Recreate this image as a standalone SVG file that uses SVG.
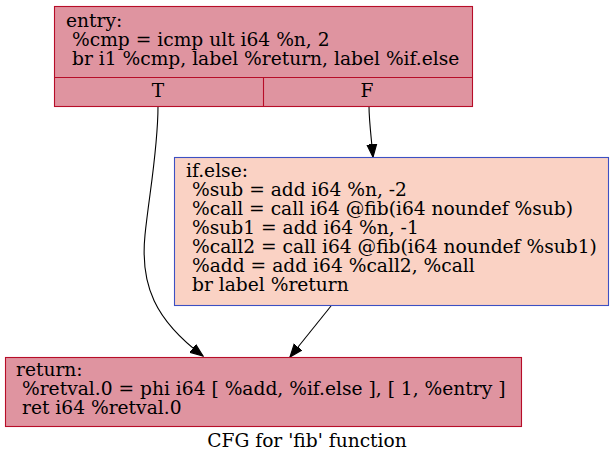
<svg xmlns="http://www.w3.org/2000/svg" width="614" height="464" viewBox="0 0 614 464">
<style>
text{font-family:"DejaVu Serif",serif;font-size:18.65px;fill:#000}
.red{fill:#df94a0;stroke:#b70d28;stroke-width:1.1}
.blue{fill:#fad2c4;stroke:#3d50c3;stroke-width:1.1}
.sep{stroke:#b70d28;stroke-width:1.1;fill:none}
.edge{fill:none;stroke:#000;stroke-width:1.1}
.mid{text-anchor:middle}
</style>
<defs>
<marker id="arr" markerUnits="userSpaceOnUse" markerWidth="14" markerHeight="12" viewBox="0 -5 12 10" refX="11" refY="0" orient="auto">
<path d="M0,-4.2 L11,0 L0,4.2 z" fill="#000" stroke="#000" stroke-width="1"/>
</marker>
</defs>
<rect width="614" height="464" fill="#fff"/>
<g id="edges">
<path class="edge" d="M158,106 C158,150 149,195 145,235 C140,285 155,320 203,356" marker-end="url(#arr)"/>
<path class="edge" d="M369,106 C369,120 371,135 373,157" marker-end="url(#arr)"/>
<path class="edge" d="M331,306 L290,357" marker-end="url(#arr)"/>
</g>
<g id="entry">
<rect class="red" x="54.5" y="6.5" width="418" height="100"/>
<path class="sep" d="M54.5,77.5 H472.5 M263.5,77.5 V106.5"/>
<text x="66" y="27">entry:</text>
<text x="72" y="46">%cmp = icmp ult i64 %n, 2</text>
<text x="72" y="65">br i1 %cmp, label %return, label %if.else</text>
<text class="mid" x="158" y="97">T</text>
<text class="mid" x="367" y="97">F</text>
</g>
<g id="if.else">
<rect class="blue" x="174.5" y="157.5" width="434" height="148"/>
<text x="186" y="177">if.else:</text>
<text x="192" y="196">%sub = add i64 %n, -2</text>
<text x="192" y="215">%call = call i64 @fib(i64 noundef %sub)</text>
<text x="192" y="234">%sub1 = add i64 %n, -1</text>
<text x="192" y="253">%call2 = call i64 @fib(i64 noundef %sub1)</text>
<text x="192" y="272">%add = add i64 %call2, %call</text>
<text x="192" y="291">br label %return</text>
</g>
<g id="return">
<rect class="red" x="5.5" y="357.5" width="516" height="69"/>
<text x="16" y="376">return:</text>
<text x="22" y="395">%retval.0 = phi i64 [ %add, %if.else ], [ 1, %entry ]</text>
<text x="22" y="414">ret i64 %retval.0</text>
</g>
<text class="mid" x="307" y="447">CFG for 'fib' function</text>
</svg>
